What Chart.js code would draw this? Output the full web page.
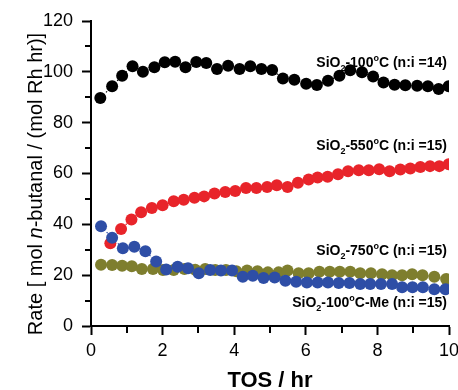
<!DOCTYPE html>
<html>
<head>
<meta charset="utf-8">
<script src="https://cdn.jsdelivr.net/npm/chart.js@4.4.1/dist/chart.umd.min.js"></script>
<style>
  html, body { margin: 0; padding: 0; background: #fff; overflow: hidden; }
  canvas { display: block; }
</style>
</head>
<body>
<canvas id="rateCanvas" width="458" height="390"></canvas>
<script>
// axis ticks
const xTicks = [0, 2, 4, 6, 8, 10];
const xMinor = [1, 3, 5, 7, 9];
const yTicks = [0, 20, 40, 60, 80, 100, 120];
const yMinor = [10, 30, 50, 70, 90, 110];

// SiO2-100C-Me (n:i =15)
const tosMe = [0.28,0.59,0.89,1.21,1.52,1.82,2.10,2.42,2.71,3.01,3.33,3.63,3.94,4.24,4.52,4.82,5.13,5.43,5.73,6.03,6.33,6.62,6.92,7.22,7.52,7.80,8.10,8.41,8.69,8.98,9.27,9.59,9.90];
const rateMe = [39.2,34.7,30.6,31.2,29.4,25.4,22.2,23.3,22.7,20.8,22.0,21.8,21.8,19.4,19.8,18.9,19.1,17.8,17.4,17.1,17.1,17.1,16.9,16.9,16.5,16.5,16.5,16.5,15.2,15.2,15.2,14.5,14.5];

// SiO2-550C (n:i =15)
const tos550 = [0.54,0.84,1.13,1.40,1.70,2.00,2.31,2.59,2.89,3.16,3.45,3.75,4.03,4.33,4.62,4.92,5.19,5.49,5.78,6.08,6.33,6.61,6.90,7.18,7.48,7.76,8.05,8.34,8.64,8.92,9.20,9.47,9.73,9.99];
const rate550 = [32.6,38.2,41.9,44.8,46.4,47.5,49.1,49.7,50.5,51.0,52.1,52.7,53.1,54.3,54.3,54.7,55.4,54.7,56.4,57.6,58.4,58.7,59.7,60.9,61.3,61.3,61.7,60.9,61.6,62.0,62.6,62.9,62.9,63.6];

// SiO2-750C (n:i =15)
const tos750 = [0.28,0.59,0.87,1.14,1.42,1.73,2.01,2.31,2.61,2.91,3.19,3.47,3.77,4.06,4.36,4.65,4.94,5.24,5.49,5.80,6.08,6.38,6.67,6.95,7.24,7.52,7.82,8.13,8.41,8.69,8.97,9.26,9.59,9.92];
const rate750 = [24.1,24.0,23.7,23.5,22.4,22.4,22.0,22.0,22.4,22.1,22.4,22.0,22.0,21.5,21.8,21.5,21.1,21.1,21.8,20.8,20.8,21.3,21.3,21.3,21.3,20.8,20.8,20.4,20.0,20.0,20.4,20.0,19.4,18.5];

// SiO2-100C (n:i =14)
const tos100 = [0.26,0.59,0.87,1.16,1.45,1.77,2.06,2.35,2.64,2.94,3.22,3.52,3.83,4.15,4.45,4.76,5.06,5.36,5.68,6.01,6.31,6.62,6.94,7.24,7.57,7.88,8.17,8.48,8.78,9.11,9.41,9.71,9.99];
const rate100 = [89.7,94.3,98.5,102.2,100.0,101.8,103.8,104.0,101.8,103.9,103.5,101.1,102.4,101.1,102.2,101.1,100.7,97.4,96.9,95.3,94.8,96.5,98.5,100.6,99.8,98.2,95.8,94.9,94.7,94.5,94.3,93.2,94.3];

// labels: [base, subscript, middle, superscript, rest]
const seriesLabels = [
  ['SiO', '2', '-100', 'o', 'C-Me (n:i =15)'],
  ['SiO', '2', '-550', 'o', 'C (n:i =15)'],
  ['SiO', '2', '-750', 'o', 'C (n:i =15)'],
  ['SiO', '2', '-100', 'o', 'C (n:i =14)']
];
const labelY = [7.5, 69.2, 27.9, 102];
const colors = ['#2e4ea6', '#e8242a', '#7e7e2e', '#000000'];

const xs = [tosMe, tos550, tos750, tos100];
const ys = [rateMe, rate550, rate750, rate100];

const FONT = '"Liberation Sans", Arial, Helvetica, sans-serif';

const datasets = xs.map((xv, i) => ({
  data: xv.map((x, j) => ({ x: x, y: ys[i][j] })),
  showLine: true,
  borderColor: colors[i],
  borderWidth: 1.2,
  borderDash: [1.5, 2.5],
  backgroundColor: colors[i],
  pointBackgroundColor: colors[i],
  pointRadius: 6,
  pointBorderWidth: 0,
  clip: 0
}));

const extras = {
  id: 'extras',
  afterDraw(chart) {
    const ctx = chart.ctx;
    const xs_ = chart.scales.x, ys_ = chart.scales.y;
    const area = chart.chartArea;
    ctx.save();
    ctx.strokeStyle = '#000';
    ctx.lineWidth = 2;
    // minor ticks
    ctx.beginPath();
    yMinor.forEach(v => {
      const p = Math.round(ys_.getPixelForValue(v));
      ctx.moveTo(area.left - 1, p);
      ctx.lineTo(area.left - 6, p);
    });
    xMinor.forEach(v => {
      const p = Math.round(xs_.getPixelForValue(v));
      ctx.moveTo(p, area.bottom + 1);
      ctx.lineTo(p, area.bottom + 7);
    });
    ctx.stroke();

    // series labels
    ctx.fillStyle = '#000';
    ctx.textBaseline = 'alphabetic';
    const right = xs_.getPixelForValue(10) - 2;
    seriesLabels.forEach((parts, i) => {
      const base = ys_.getPixelForValue(labelY[i]);
      const big = 'bold 14px ' + FONT, small = 'bold 9px ' + FONT;
      const pieces = [
        [parts[0], big, 0], [parts[1], small, 4], [parts[2], big, 0],
        [parts[3], small, -6], [parts[4], big, 0]
      ];
      let w = 0;
      pieces.forEach(p => { ctx.font = p[1]; w += ctx.measureText(p[0]).width; });
      let x = right - w;
      pieces.forEach(p => {
        ctx.font = p[1];
        ctx.fillText(p[0], x, base + p[2]);
        x += ctx.measureText(p[0]).width;
      });
    });

    // x title
    ctx.font = 'bold 22px ' + FONT;
    ctx.textAlign = 'center';
    ctx.fillText('TOS / hr', (area.left + area.right) / 2, 387);

    // y title with italic n
    const yParts = [['Rate [ mol ', '20px '], ['n', 'italic 20px '], ['-butanal / (mol Rh hr)]', '20px ']];
    ctx.textAlign = 'left';
    let tw = 0;
    yParts.forEach(p => { ctx.font = p[1] + FONT; tw += ctx.measureText(p[0]).width; });
    ctx.translate(42, 184);
    ctx.rotate(-Math.PI / 2);
    let tx = -tw / 2;
    yParts.forEach(p => {
      ctx.font = p[1] + FONT;
      ctx.fillText(p[0], tx, 0);
      tx += ctx.measureText(p[0]).width;
    });
    ctx.restore();
  }
};

new Chart(document.getElementById('rateCanvas'), {
  type: 'scatter',
  data: { datasets: datasets },
  options: {
    responsive: false,
    animation: false,
    devicePixelRatio: 1,
    layout: { padding: { top: 21, left: 0, right: 0, bottom: 0 } },
    plugins: { legend: { display: false }, tooltip: { enabled: false } },
    scales: {
      x: {
        type: 'linear', min: 0, max: 10,
        afterBuildTicks: s => { s.ticks = xTicks.map(v => ({ value: v })); },
        afterFit: s => { s.height = 64; s.paddingLeft = 0; s.paddingRight = 9; },
        ticks: { color: '#000', font: { family: FONT, size: 18 }, padding: 5, maxRotation: 0, autoSkip: false },
        grid: { drawOnChartArea: false, tickLength: 9, tickWidth: 2, tickColor: '#000' },
        border: { color: '#000', width: 2 }
      },
      y: {
        type: 'linear', min: 0, max: 120,
        afterBuildTicks: s => { s.ticks = yTicks.map(v => ({ value: v })); },
        afterFit: s => { s.width = 91; s.paddingTop = 0; s.paddingBottom = 0; },
        ticks: { color: '#000', font: { family: FONT, size: 18 }, padding: 9 },
        grid: { drawOnChartArea: false, tickLength: 9, tickWidth: 2, tickColor: '#000' },
        border: { color: '#000', width: 2 }
      }
    }
  },
  plugins: [extras]
});
</script>
</body>
</html>
